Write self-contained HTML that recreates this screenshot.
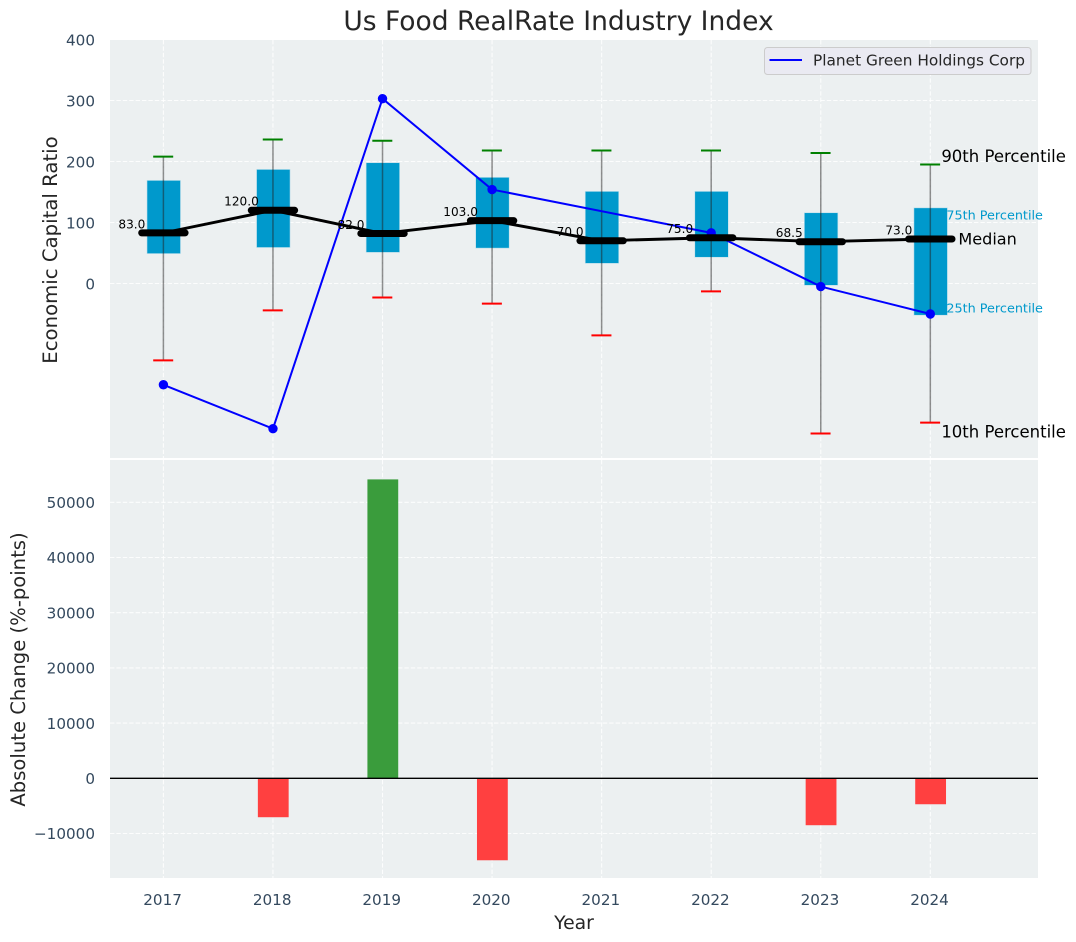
<!DOCTYPE html>
<html lang="en">
<head>
<meta charset="utf-8">
<title>Us Food RealRate Industry Index</title>
<style>
html,body{margin:0;padding:0;background:#fff;width:1076px;height:942px;overflow:hidden}
svg{display:block}
text{font-family:"DejaVu Sans","Liberation Sans",sans-serif}
</style>
</head>
<body>
<svg id="chart" xmlns="http://www.w3.org/2000/svg" width="1076" height="942" viewBox="0 0 1076 942"></svg>
<script>
const years = [2017, 2018, 2019, 2020, 2021, 2022, 2023, 2024];
const p90 = [208, 236, 234, 218, 218, 218, 214, 195];
const p75 = [169, 187, 198, 174, 151, 151, 116, 124];
const median = [83, 120, 82, 103, 70, 75, 68.5, 73];
const p25 = [49, 59, 51, 58, 33, 43, -3, -52];
const p10 = [-126, -44, -23, -33, -85, -13, -246, -228];
const companyRatio = [-166, -238, 303, 154, null, 83, -5, -50];
const absoluteChange = [null, -7050, 54150, -14850, null, null, -8500, -4700];
const upperTicks = [0, 100, 200, 300, 400];
const lowerTicks = [-10000, 0, 10000, 20000, 30000, 40000, 50000];

const svg = document.getElementById('chart');
const NS = 'http://www.w3.org/2000/svg';
const PLOT_LEFT = 110, PLOT_RIGHT = 1038;
const UP_TOP = 40, UP_BOTTOM = 458, LOW_TOP = 460, LOW_BOTTOM = 878;
const xScale = v => 163.4 + (v - 2017) * 109.56;
const yUpper = v => 283.5 - v * 0.61;
const yLower = v => 778.3 - v * 0.00552;

function mk(tag, attrs, content) {
  const el = document.createElementNS(NS, tag);
  for (const k in attrs) el.setAttribute(k, attrs[k]);
  if (content !== undefined) el.textContent = content;
  svg.appendChild(el);
  return el;
}
function label(str, x, y, size, fill, anchor) {
  return mk('text', {x: x, y: y, 'font-size': size, fill: fill, 'text-anchor': anchor || 'start'}, str);
}
const tickFmt = v => (v < 0 ? '\u2212' : '') + Math.abs(v);

/* panels */
const upperPanel = mk('rect', {x: PLOT_LEFT, y: UP_TOP, width: PLOT_RIGHT - PLOT_LEFT, height: UP_BOTTOM - UP_TOP, fill: '#ecf0f1'});


const lowerPanel = mk('rect', {x: PLOT_LEFT, y: LOW_TOP, width: PLOT_RIGHT - PLOT_LEFT, height: LOW_BOTTOM - LOW_TOP, fill: '#ecf0f1'});



/* grid */
const gridStyle = {stroke: '#ffffff', 'stroke-width': 1.1, 'stroke-dasharray': '4.4 2', 'stroke-opacity': 0.85};
years.forEach(yr => {
  const gu = mk('line', Object.assign({x1: xScale(yr), x2: xScale(yr), y1: UP_TOP, y2: UP_BOTTOM}, gridStyle));
  
  
  const gl = mk('line', Object.assign({x1: xScale(yr), x2: xScale(yr), y1: LOW_TOP, y2: LOW_BOTTOM}, gridStyle));
  
  
  const xt = label(String(yr), xScale(yr) - 0.8, 905, 15.2, '#34495e', 'middle');
  
  
});
upperTicks.forEach(t => {
  const g = mk('line', Object.assign({x1: PLOT_LEFT, x2: PLOT_RIGHT, y1: yUpper(t), y2: yUpper(t)}, gridStyle));
  
  
  const tl = label(tickFmt(t), 95, yUpper(t) + 6, 15.2, '#34495e', 'end');
  
  
});
lowerTicks.forEach(t => {
  const g = mk('line', Object.assign({x1: PLOT_LEFT, x2: PLOT_RIGHT, y1: yLower(t), y2: yLower(t)}, gridStyle));
  
  
  const tl = label(tickFmt(t), 95, yLower(t) + 5.7, 15.2, '#34495e', 'end');
  
  
});

/* boxes and whiskers */
years.forEach((yr, i) => {
  const cx = xScale(yr);
  const box = mk('rect', {x: cx - 16.4, y: yUpper(p75[i]), width: 33.5, height: yUpper(p25[i]) - yUpper(p75[i]), fill: '#0099cc', stroke: '#bfe0ec', 'stroke-width': 0.6});
  
  
  const wh = mk('line', {x1: cx, x2: cx, y1: yUpper(p90[i]), y2: yUpper(p10[i]), stroke: '#222222', 'stroke-opacity': 0.5, 'stroke-width': 1.5});
  
  
  const hi = mk('line', {x1: cx - 10.2, x2: cx + 9.8, y1: yUpper(p90[i]), y2: yUpper(p90[i]), stroke: '#008000', 'stroke-width': 2});
  
  
  const lo = mk('line', {x1: cx - 10.2, x2: cx + 9.8, y1: yUpper(p10[i]), y2: yUpper(p10[i]), stroke: '#ff0000', 'stroke-width': 2});
  
  
});

/* company series */
const companyPts = years.map((yr, i) => companyRatio[i] === null ? null : [xScale(yr), yUpper(companyRatio[i])]).filter(Boolean);
const companyLine = mk('polyline', {points: companyPts.map(p => p.join(',')).join(' '), fill: 'none', stroke: '#0000ff', 'stroke-width': 2, 'stroke-linejoin': 'round'});


companyPts.forEach(p => {
  const dot = mk('circle', {cx: p[0], cy: p[1], r: 4.7, fill: '#0000ff'});
  
  
});

/* medians */
const medianLine = mk('polyline', {points: years.map((yr, i) => xScale(yr) + ',' + yUpper(median[i])).join(' '), fill: 'none', stroke: '#000000', 'stroke-width': 2.9, 'stroke-linejoin': 'round'});


years.forEach((yr, i) => {
  const cx = xScale(yr), cy = yUpper(median[i]);
  const bar = mk('line', {x1: cx - 21.7, x2: cx + 21.7, y1: cy, y2: cy, stroke: '#000000', 'stroke-width': 7, 'stroke-linecap': 'round'});
  
  
  const val = label(median[i].toFixed(1), cx - 31.5, cy - 4.6, 12.1, '#000000', 'middle');
  
  
});

/* percentile annotations derived from last year */
const last = years.length - 1;
const lastX = xScale(years[last]);
const a90 = label('90th Percentile', lastX + 11, yUpper(p90[last]) - 2.5, 16.5, '#000000');


const a75 = label('75th Percentile', lastX + 16, yUpper(p75[last]) + 11.5, 12.8, '#0099cc');


const aMed = label('Median', lastX + 28, yUpper(median[last]) + 5.5, 16.1, '#000000');


const a25 = label('25th Percentile', lastX + 16, yUpper(p25[last]) - 2.5, 12.8, '#0099cc');


const a10 = label('10th Percentile', lastX + 11, yUpper(p10[last]) + 15, 16.5, '#000000');



/* change bars */
years.forEach((yr, i) => {
  const v = absoluteChange[i];
  if (v === null) return;
  const y0 = yLower(0), y1 = yLower(v);
  const b = mk('rect', {x: xScale(yr) - 15.1, y: Math.min(y0, y1), width: 30.8, height: Math.abs(y1 - y0), fill: v >= 0 ? '#3a9c3c' : '#ff4040'});
  
  
});
const zero = mk('line', {x1: PLOT_LEFT, x2: PLOT_RIGHT, y1: yLower(0), y2: yLower(0), stroke: '#000000', 'stroke-width': 1.3});



/* legend */
const legendBox = mk('rect', {x: 764.5, y: 47.5, width: 266.5, height: 27, rx: 3, fill: '#eaeaf2', stroke: '#cccccc', 'stroke-width': 1});


const legendLine = mk('line', {x1: 769.5, x2: 802, y1: 60, y2: 60, stroke: '#0000ff', 'stroke-width': 2});


const legendText = label('Planet Green Holdings Corp', 813, 65.7, 15.35, '#262626');



/* titles */
const title = label('Us Food RealRate Industry Index', 558.5, 30, 26.5, '#262626', 'middle');


const xTitle = label('Year', 574, 929, 18.8, '#262626', 'middle');


const yTitleTop = label('Economic Capital Ratio', 0, 0, 19.7, '#262626', 'middle');
yTitleTop.setAttribute('transform', 'translate(57,250) rotate(-90)');


const yTitleLow = label('Absolute Change (%-points)', 0, 0, 19.6, '#262626', 'middle');
yTitleLow.setAttribute('transform', 'translate(25,669.5) rotate(-90)');


</script>
</body>
</html>
